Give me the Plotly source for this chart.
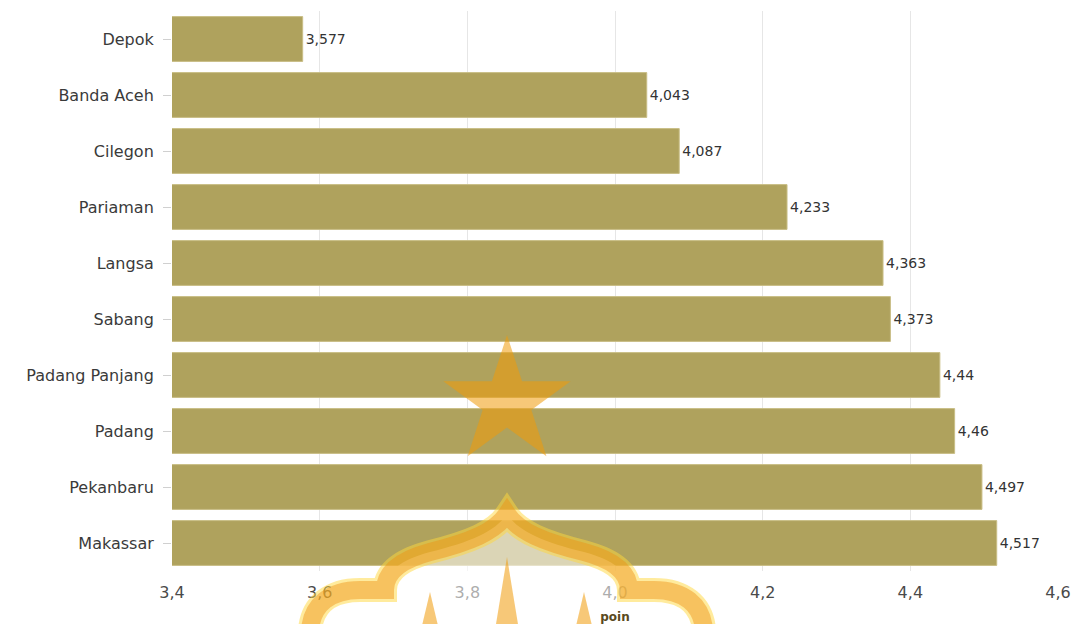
import math
import plotly.graph_objects as go

cities = ["Depok", "Banda Aceh", "Cilegon", "Pariaman", "Langsa", "Sabang",
          "Padang Panjang", "Padang", "Pekanbaru", "Makassar"]
values = [3.577, 4.043, 4.087, 4.233, 4.363, 4.373, 4.44, 4.46, 4.497, 4.517]
x_ticks = [3.4, 3.6, 3.8, 4.0, 4.2, 4.4, 4.6]
x_tick_text = ["3,4", "3,6", "3,8", "4,0", "4,2", "4,4", "4,6"]

labels = [f"{v:g}".replace(".", ",") for v in values]

fig = go.Figure()
fig.add_trace(go.Bar(
    y=cities, x=values, orientation="h",
    marker=dict(color="#AFA25D", line=dict(color="#C9BE86", width=1)),
    text=labels, textposition="outside", cliponaxis=False,
    textfont=dict(family="DejaVu Sans", size=14, color="#333333"),
))

L, R, T, B = 172, 21, 11, 53
W, H = 1079, 624
pw, ph = W - L - R, H - T - B

def px(x):
    return (x - L) / pw

def py(y):
    return (H - B - y) / ph

def P(a, b):
    return f"{px(a):.4f},{py(b):.4f}"

def M(a, b):
    return P(1014 - a, b)

# watermark dome (decoration)
dome_line = (f"M {P(310,630)} C {P(312,605)} {P(330,590)} {P(360,590)} "
             f"L {P(385,590)} C {P(385,572)} {P(400,560)} {P(430,552)} "
             f"C {P(470,542)} {P(495,532)} {P(507,514)} "
             f"C {M(495,532)} {M(470,542)} {M(430,552)} "
             f"C {M(400,560)} {M(385,572)} {M(385,590)} "
             f"L {M(360,590)} C {M(330,590)} {M(312,605)} {M(310,630)}")
shapes = [
    dict(type="path", xref="paper", yref="paper", path=dome_line + " Z",
         fillcolor="rgba(255,255,255,0.55)", line=dict(width=0), layer="above"),
    dict(type="path", xref="paper", yref="paper", path=dome_line,
         line=dict(color="rgba(255,215,60,0.5)", width=24), layer="above"),
    dict(type="path", xref="paper", yref="paper", path=dome_line,
         line=dict(color="rgba(238,145,20,0.45)", width=18), layer="above"),
]
for sx, top, half in [(430, 592, 9), (507, 557, 12), (584, 592, 9)]:
    sp = f"M {P(sx-half,630)} L {P(sx,top)} L {P(sx+half,630)} Z"
    shapes.append(dict(type="path", xref="paper", yref="paper", path=sp,
                       fillcolor="rgba(240,155,10,0.55)", line=dict(width=0), layer="above"))

# watermark star
cx, cy, ro = 507, 402, 67
ri = ro * 0.382
pts = []
for i in range(10):
    ang = -math.pi / 2 + i * math.pi / 5
    r = ro if i % 2 == 0 else ri
    pts.append((cx + r * math.cos(ang), cy + r * math.sin(ang)))
path = "M " + " L ".join(P(a, b) for a, b in pts) + " Z"
shapes.append(dict(type="path", xref="paper", yref="paper", path=path,
                   fillcolor="rgba(240,155,10,0.55)", line=dict(width=0), layer="above"))

fig.update_layout(
    width=W, height=H,
    margin=dict(l=L, r=R, t=T, b=B, autoexpand=False),
    plot_bgcolor="white", paper_bgcolor="white",
    bargap=0.2, showlegend=False,
    separators=",.",
    font=dict(family="DejaVu Sans", color="#444444"),
    shapes=shapes,
    xaxis=dict(
        range=[3.4, 4.6], automargin=False,
        tickvals=x_ticks, ticktext=x_tick_text,
        showgrid=True, gridcolor="#E6E6E6", gridwidth=1,
        zeroline=False,
        tickfont=dict(size=16, color="#4a4a4a"),
        ticklabelstandoff=10,
        title=dict(text="<b>poin</b>", font=dict(size=12, color="#5a4a20"), standoff=22),
        ticks="", showline=False,
    ),
    yaxis=dict(
        autorange="reversed", automargin=False,
        tickfont=dict(size=16, color="#3a3a3a"),
        ticks="outside", ticklen=8, tickcolor="#D0D0D0",
        ticklabelstandoff=6,
        showline=False, showgrid=False,
    ),
)

fig.write_html("out.html", config={"displayModeBar": False},
               post_script="document.body.style.margin='0';document.body.style.overflow='hidden';")
